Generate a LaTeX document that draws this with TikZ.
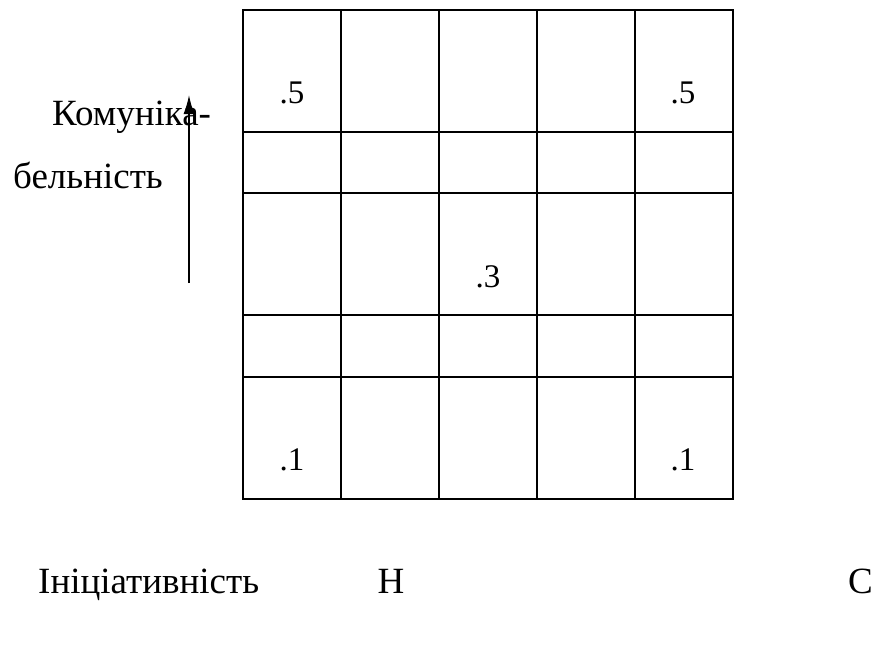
\documentclass[tikz,border=0pt]{standalone}
\usepackage{fontspec}
\setmainfont{Liberation Serif}
\usetikzlibrary{arrows.meta}
\begin{document}
\begin{tikzpicture}[x=1pt,y=-1pt,
  gridline/.style={line width=2pt},
  lbl/.style={inner sep=0pt,font=\fontsize{37}{44}\selectfont},
  num/.style={inner sep=0pt,anchor=base,font=\fontsize{33}{40}\selectfont}]
\useasboundingbox (0,0) rectangle (874,661);
% grid
\foreach \x in {243,341,438.7,536.7,634.7,732.7}
  \draw[gridline] (\x,10.3) -- (\x,498.7);
\foreach \y in {10.3,131.7,192.7,315,376.7,498.7}
  \draw[gridline] (242,\y) -- (733.7,\y);
% numbers
\node[num] (n1) at (292,103) {.5};
\node[num] (n2) at (683,103) {.5};
\node[num] (n3) at (488,287) {.3};
\node[num] (n4) at (292,470) {.1};
\node[num] (n5) at (683,470) {.1};
% axis labels
\node[lbl,anchor=base west] (k1) at (52,125) {Комуніка-};
\node[lbl,anchor=base west] (k2) at (13,188) {бельність};
\coordinate (a0) at (189,283);
\coordinate (a1) at (189,95);
\draw[line width=1.5pt,-{Latex[length=19pt,width=11pt]}] (a0) -- (a1);
\node[lbl,anchor=base west] (i1) at (38,593) {Ініціативність};
\node[lbl,anchor=base] (h) at (391,593) {Н};
\node[lbl,anchor=base west] (c) at (848,593) {С};
\end{tikzpicture}
\end{document}
